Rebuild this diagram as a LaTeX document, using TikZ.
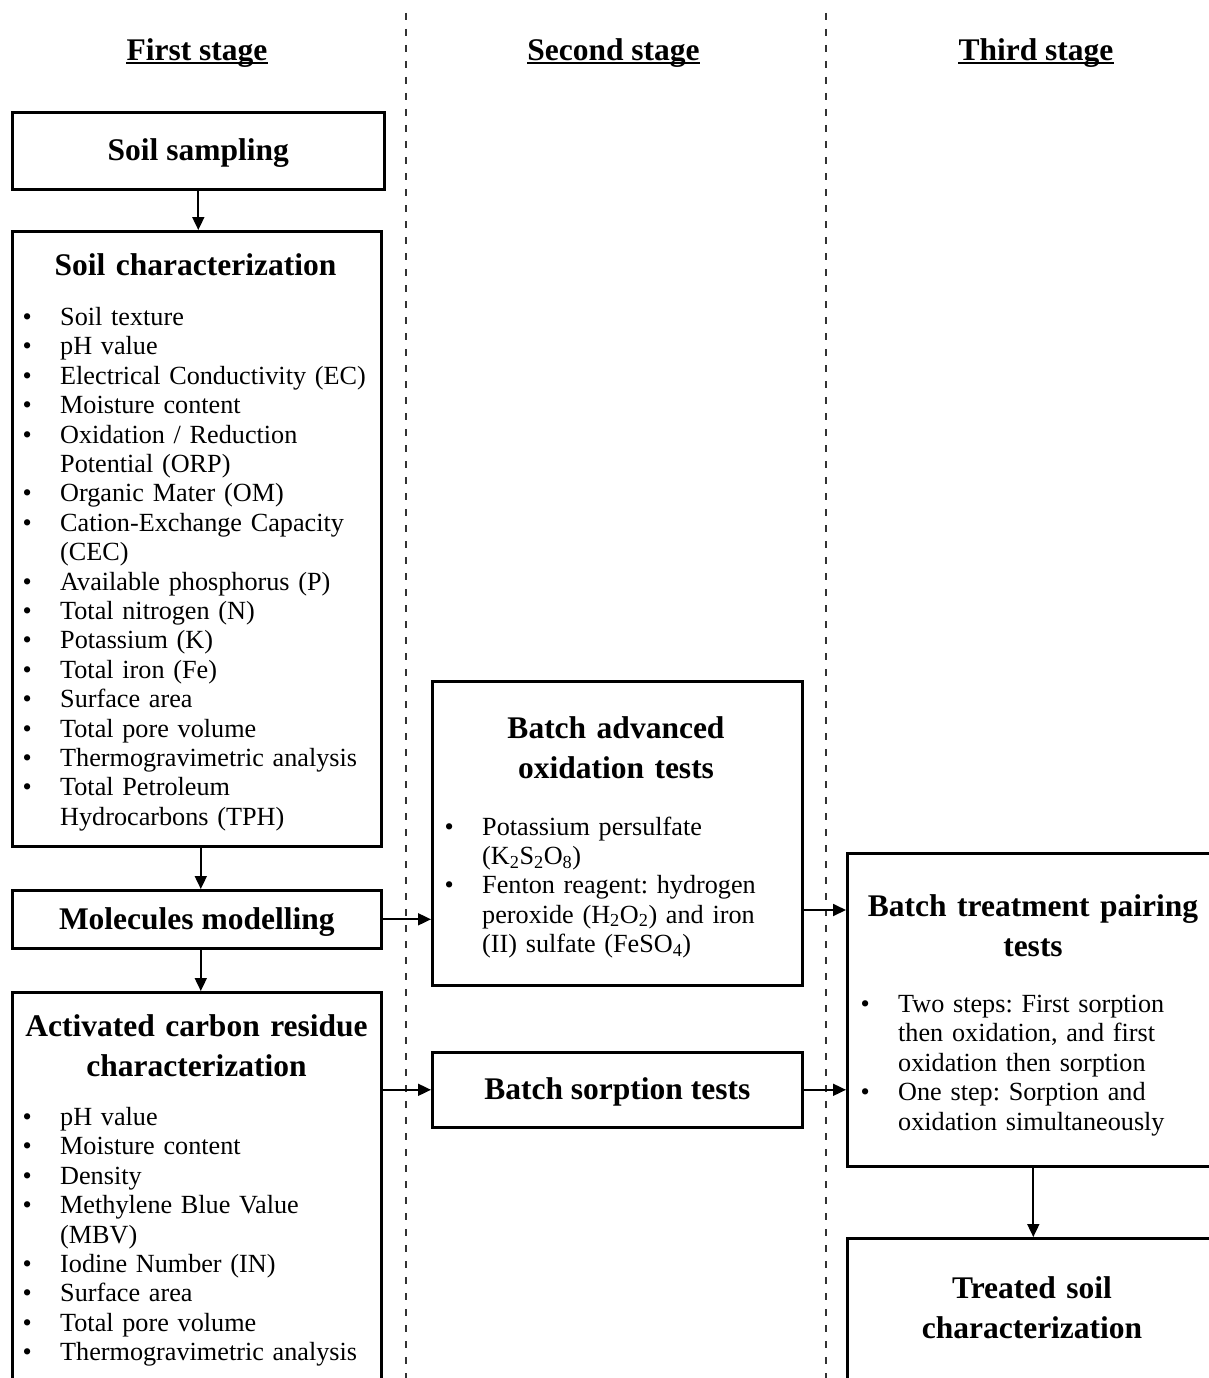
\documentclass[tikz,border=0pt]{standalone}
\usepackage{fontspec}
\setmainfont{Liberation Serif}
\usetikzlibrary{arrows.meta,calc}
\newcommand\bodyfnt{\fontsize{26.2}{29.4}\selectfont\frenchspacing}
\newcommand\titlefnt{\fontsize{31.5}{40}\selectfont\bfseries}
\newcommand\bul{\makebox[37.6pt][l]{•}}
\newcommand\cnt{\hspace*{37.6pt}}
\begin{document}
\begin{tikzpicture}[x=1pt,y=-1pt,
  box/.style={draw, line width=2.6pt, anchor=north west, inner sep=0pt, font=\titlefnt, text height=21pt, text depth=1pt},
  ttl/.style={font=\titlefnt, anchor=base, align=center, text width=380pt, inner sep=0pt},
  lst/.style={font=\bodyfnt, anchor=base west, align=left, text width=400pt, inner sep=0pt},
  hdr/.style={font=\titlefnt, anchor=base, inner sep=0pt},
  arr/.style={line width=1.8pt, -{Triangle[length=13pt,width=12pt]}},
  sep/.style={line width=1.4pt, draw=black!80, dash pattern=on 7pt off 9pt}]
\useasboundingbox (0,0) rectangle (1209,1378);
\clip (0,0) rectangle (1209,1378);
\fill[white] (0,0) rectangle (1209,1378);

% stage headers
\node[hdr] (h1) at (197,60.5) {First stage};
\node[hdr] (h2) at (613.5,60.5) {Second stage};
\node[hdr] (h3) at (1036,60.5) {Third stage};
\foreach \h in {h1,h2,h3}
  \draw[line width=2.4pt] ([yshift=-2.5pt]\h.base west) -- ([yshift=-2.5pt]\h.base east);

% separators
\draw[sep] (406,13) -- (406,1390);
\draw[sep] (826,13) -- (826,1390);

% boxes
\node[box, minimum width=372pt, minimum height=77pt] (samp) at (11,111) {Soil sampling};
\node[box, minimum width=369pt, minimum height=615pt] (char) at (11,230) {};
\node[box, minimum width=369pt, minimum height=58pt] (mol) at (11,889) {Molecules modelling};
\node[box, minimum width=369pt, minimum height=420pt] (act) at (11,991) {};
\node[box, minimum width=370pt, minimum height=304pt] (aop) at (431,680) {};
\node[box, minimum width=370pt, minimum height=75pt] (sorp) at (431,1051) {Batch sorption tests};
\node[box, minimum width=372pt, minimum height=313pt] (treat) at (846,852) {};
\node[box, minimum width=372pt, minimum height=170pt] (tsc) at (846,1237) {};

% titles
\node[ttl] (charT) at (195.5,275) {Soil characterization};
\node[ttl] (actT) at (196.5,1036) {Activated carbon residue\\characterization};
\node[ttl] (aopT) at (616,738) {Batch advanced\\oxidation tests};
\node[ttl] (treatT) at (1033,916) {Batch treatment pairing\\tests};
\node[ttl] (tscT) at (1032,1298) {Treated soil\\characterization};

% lists
\node[lst] (charL) at (22.4,325.5) {%
\bul Soil texture\\
\bul pH value\\
\bul Electrical Conductivity (EC)\\
\bul Moisture content\\
\bul Oxidation / Reduction\\
\cnt Potential (ORP)\\
\bul Organic Mater (OM)\\
\bul Cation-Exchange Capacity\\
\cnt (CEC)\\
\bul Available phosphorus (P)\\
\bul Total nitrogen (N)\\
\bul Potassium (K)\\
\bul Total iron (Fe)\\
\bul Surface area\\
\bul Total pore volume\\
\bul Thermogravimetric analysis\\
\bul Total Petroleum\\
\cnt Hydrocarbons (TPH)};

\node[lst] (actL) at (22.4,1125.5) {%
\bul pH value\\
\bul Moisture content\\
\bul Density\\
\bul Methylene Blue Value\\
\cnt (MBV)\\
\bul Iodine Number (IN)\\
\bul Surface area\\
\bul Total pore volume\\
\bul Thermogravimetric analysis};

\node[lst] (aopL) at (444.4,835) {%
\bul Potassium persulfate\\
\cnt (K\textsubscript{2}S\textsubscript{2}O\textsubscript{8})\\
\bul Fenton reagent: hydrogen\\
\cnt peroxide (H\textsubscript{2}O\textsubscript{2}) and iron\\
\cnt (II) sulfate (FeSO\textsubscript{4})};

\node[lst] (treatL) at (860.4,1012.5) {%
\bul Two steps: First sorption\\
\cnt then oxidation, and first\\
\cnt oxidation then sorption\\
\bul One step: Sorption and\\
\cnt oxidation simultaneously};

% connectors
\draw[arr] (samp.south) -- (samp.south |- char.north);
\draw[arr] ([xshift=4pt]char.south) -- ([xshift=4pt]char.south |- mol.north);
\draw[arr] ([xshift=4pt]mol.south) -- ([xshift=4pt]mol.south |- act.north);
\draw[arr] (mol.east) -- (mol.east -| aop.west);
\draw[arr] (sorp.west -| act.east) -- (sorp.west);
\coordinate (yaop) at (0,910);
\draw[arr] (aop.east |- yaop) -- (treat.west |- yaop);
\draw[arr] (sorp.east) -- (sorp.east -| treat.west);
\draw[arr] (treat.south) -- (treat.south |- tsc.north);
\end{tikzpicture}
\end{document}
